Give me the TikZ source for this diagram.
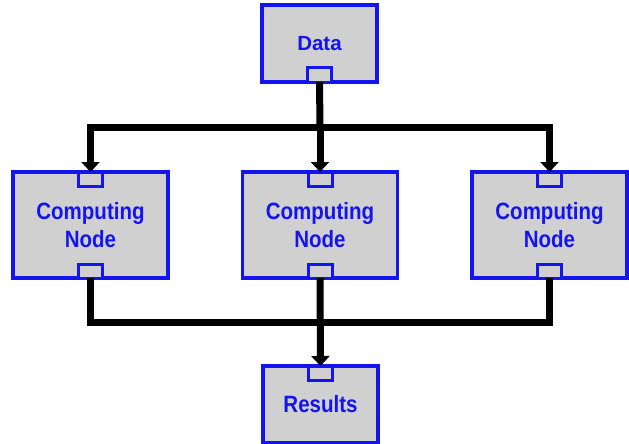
\documentclass[tikz,border=0pt]{standalone}
\usepackage{fontspec}
\setmainfont{Liberation Sans}
\usetikzlibrary{arrows.meta}
\definecolor{boxblue}{RGB}{20,20,240}
\definecolor{boxgray}{RGB}{208,208,208}
% slightly tall lettering for the box labels
\newcommand{\tallword}[1]{\scalebox{1}[1.15]{#1}}
\begin{document}
\begin{tikzpicture}[x=1pt,y=-1pt,
  block/.style={draw=boxblue, line width=3.4pt, fill=boxgray, outer sep=0pt,
    minimum width=155pt, minimum height=106pt, inner sep=0pt, align=center,
    font=\bfseries\fontsize{20.5}{28}\selectfont, text=boxblue},
  endblock/.style={block, minimum width=115pt, minimum height=77pt},
  port/.style={draw=boxblue, line width=3pt, fill=boxgray, outer sep=0pt,
    minimum width=24pt, minimum height=14pt, inner sep=0pt},
  wire/.style={line width=7pt, line join=miter},
  feed/.style={wire, -{Triangle[width=18pt,length=10pt]}}]
\useasboundingbox (0,0) rectangle (629,444);

% source, workers and sink
\node[endblock] (data) at (319.5,43.5) {Data};
\node[block] (c1) at (90.5,225) {\tallword{Computing}\\\tallword{Node}};
\node[block] (c2) at (320,225) {\tallword{Computing}\\\tallword{Node}};
\node[block] (c3) at (549.5,225) {\tallword{Computing}\\\tallword{Node}};
\node[endblock] (res) at (320.5,404.5) {\tallword{Results}};

% connection ports
\node[port, anchor=south] (dout) at (data.south) {};
\foreach \n in {c1,c2,c3}{
  \node[port, anchor=north] (\n in) at (\n.north) {};
  \node[port, anchor=south] (\n out) at (\n.south) {};
}
\node[port, anchor=north] (resin) at (res.north) {};

% distribution bus
\coordinate (split) at (320,127);
\draw[wire] (dout.south) -- (split);
\draw[feed] (split) -| (c1in.north);
\draw[feed] (split) -- (c2in.north);
\draw[feed] (split) -| (c3in.north);

% collection bus
\coordinate (join) at (320,322);
\draw[wire] (c1out.south) |- (join) -| (c3out.south);
\draw[feed] (c2out.south) -- (resin.north);
\end{tikzpicture}
\end{document}
